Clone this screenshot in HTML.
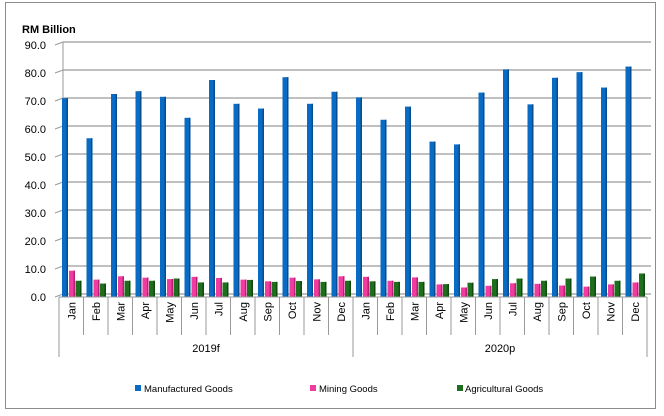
<!DOCTYPE html>
<html><head><meta charset="utf-8"><style>
body{margin:0;background:#fff;font-family:"Liberation Sans",sans-serif}
svg text{font-family:"Liberation Sans",sans-serif}
</style></head><body>
<svg id="c" width="664" height="411">
<rect x="5.5" y="2.5" width="650" height="406" fill="#fff" stroke="#8c8c8c"/>
<text x="22" y="33" font-size="11" font-weight="bold">RM Billion</text>
<g id="grid"></g><g id="bars"></g><g id="xaxis"></g>
<g font-size="9.5">
<rect x="135" y="385" width="6" height="6" fill="#0a6bc4"/>
<text x="144" y="392">Manufactured Goods</text>
<rect x="310" y="385" width="6" height="6" fill="#f03ca0"/>
<text x="319" y="392">Mining Goods</text>
<rect x="457" y="385" width="6" height="6" fill="#1e6e1e"/>
<text x="465" y="392">Agricultural Goods</text>
</g>
</svg>
<script>
const months=["Jan","Feb","Mar","Apr","May","Jun","Jul","Aug","Sep","Oct","Nov","Dec","Jan","Feb","Mar","Apr","May","Jun","Jul","Aug","Sep","Oct","Nov","Dec"];
const years=["2019f","2020p"];
const manufactured=[71,56.7,72.5,73.5,71.5,64,77.5,69,67.3,78.5,69,73.3,71.3,63.3,68,55.5,54.5,73,81.3,68.8,78.3,80.3,74.8,82.3];
const mining=[9.4,6.2,7.4,6.9,6.4,7.2,6.8,6.2,5.6,6.9,6.3,7.4,7.2,5.8,7.0,4.5,3.4,4.0,4.9,4.7,4.1,3.7,4.5,5.2];
const agricultural=[5.8,4.8,5.8,5.8,6.6,5.2,5.2,6.1,5.4,5.7,5.4,5.8,5.6,5.4,5.4,4.6,5.1,6.4,6.6,5.8,6.6,7.3,5.8,8.4];
const yTicks=[0,10,20,30,40,50,60,70,80,90];
const NS="http://www.w3.org/2000/svg";
const X0=59,X1=647,Y0=297,Y1=45,YMAX=90;
const y=v=>Y0-(v/YMAX)*(Y0-Y1);
const bw=(X1-X0)/months.length;
const x=i=>X0+i*bw;
function mk(p,t,a){const e=document.createElementNS(NS,t);for(const k in a)e.setAttribute(k,a[k]);p.appendChild(e);return e;}
const grid=document.getElementById('grid'),bars=document.getElementById('bars'),xa=document.getElementById('xaxis');
yTicks.forEach(t=>{
  const l=mk(grid,'line',{x1:X0+4,x2:X1+4,y1:y(t)-3,y2:y(t)-3,stroke:'#9a9a9a','stroke-width':1.2});
  
  
  const l2=mk(grid,'line',{x1:X0-4,x2:X0+4,y1:y(t),y2:y(t)-3,stroke:'#9a9a9a'});
  
  
  const tx=mk(grid,'text',{x:X0-13,y:y(t)+4,'text-anchor':'end','font-size':11});
  tx.textContent=t.toFixed(1);
  
  
});
const ya=mk(grid,'line',{x1:X0+4,x2:X0+4,y1:Y1-3,y2:Y0-3,stroke:'#9a9a9a'});


const series=[[manufactured,'#0a6bc4','#064d8e',3,'manufactured'],[mining,'#f03ca0','#b81f76',10,'mining'],[agricultural,'#1e6e1e','#0f4a0f',16.5,'agricultural']];
series.forEach(([vals,c,d,off,nm])=>{
  vals.forEach((v,i)=>{
    const r=mk(bars,'rect',{x:x(i)+off,y:y(v),width:6,height:Y0-y(v),fill:c});
    
    
    const s=mk(bars,'rect',{x:x(i)+off+4.5,y:y(v),width:1.5,height:Y0-y(v),fill:d});
    
    
  });
});
const xb=mk(xa,'line',{x1:X0,x2:X1,y1:Y0,y2:Y0,stroke:'#9a9a9a'});


months.forEach((m,i)=>{
  const sep=mk(xa,'line',{x1:x(i),x2:x(i),y1:Y0,y2:(i%12===0)?357:335,stroke:'#9a9a9a'});
  
  
  const cx=x(i)+bw/2+4,t=mk(xa,'text',{x:0,y:0,'font-size':11,'text-anchor':'end',transform:`translate(${cx},${Y0+5}) rotate(-90)`});
  t.textContent=m;
  
  
});
const se=mk(xa,'line',{x1:X1,x2:X1,y1:Y0,y2:357,stroke:'#9a9a9a'});


years.forEach((yr,g)=>{
  const t=mk(xa,'text',{x:x(g*12+6),y:352,'font-size':11,'text-anchor':'middle'});
  t.textContent=yr;
  
  
});
</script>
</body></html>
